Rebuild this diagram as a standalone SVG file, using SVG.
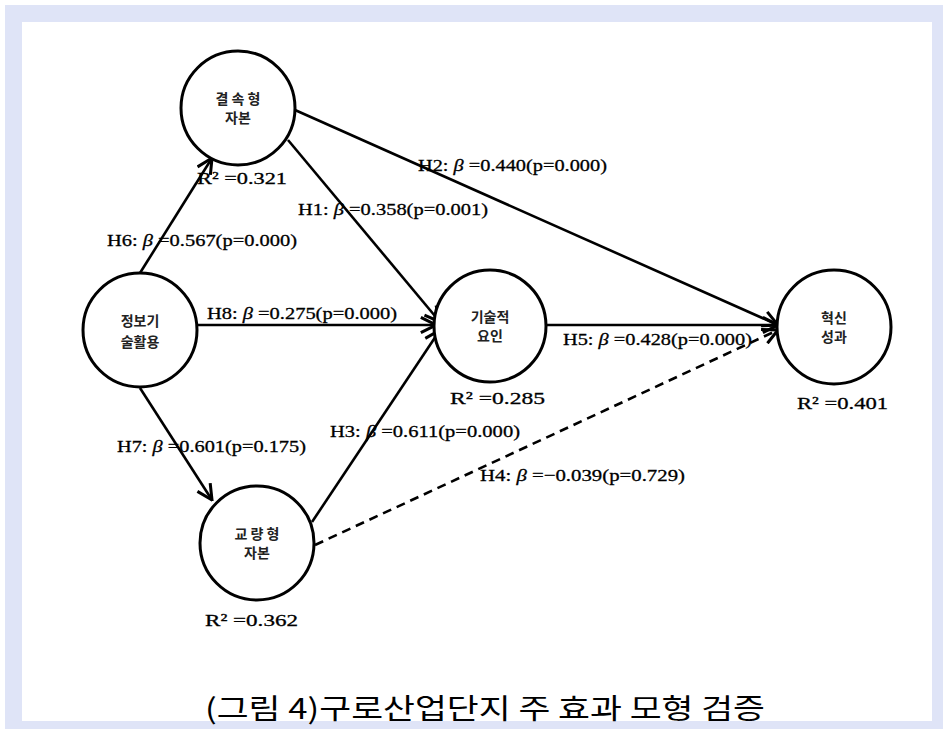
<svg xmlns="http://www.w3.org/2000/svg" width="948" height="733" viewBox="0 0 948 733">
<defs>
<style>
.node{fill:#fff;stroke:#000;stroke-width:3}
.nt{font-family:"Noto Sans CJK KR",sans-serif;font-size:14px;font-weight:bold;fill:#222;text-anchor:middle}
.lbl{font-family:"Liberation Serif",serif;font-size:17px;fill:#000;stroke:#000;stroke-width:0.3}
.b{font-style:italic}
.edge{stroke:#000;stroke-width:2.6;fill:none;marker-end:url(#arr)}
.dash{stroke-dasharray:9,6}
.cap{font-family:"Noto Sans CJK KR",sans-serif;font-size:28px;fill:#000}
</style>
<marker id="arr" viewBox="0 0 12 12" refX="11" refY="6" markerWidth="7" markerHeight="7" orient="auto" markerUnits="strokeWidth">
<path d="M1,1 L11,6 L1,11" fill="none" stroke="#000" stroke-width="2"/>
</marker>
</defs>
<rect x="0" y="0" width="948" height="733" fill="#fff"/>
<rect x="5" y="5" width="938" height="724" fill="#dfe4f7"/>
<rect x="22" y="22" width="910" height="699" fill="#fff"/>
<g id="connectors">
<line class="edge" x1="140" y1="273" x2="212" y2="158"/>
<line class="edge" x1="140" y1="388" x2="212" y2="500"/>
<line class="edge" x1="198" y1="325" x2="436" y2="325"/>
<line class="edge" x1="288" y1="140" x2="440" y2="322"/>
<line class="edge" x1="312" y1="522" x2="440" y2="330"/>
<line class="edge" x1="295" y1="110" x2="778" y2="325"/>
<line class="edge" x1="546" y1="325" x2="778" y2="325"/>
<line class="edge dash" x1="315" y1="545" x2="778" y2="330"/>
</g>
<g id="n-bonding">
<circle class="node" cx="238" cy="108" r="57"/>
<text class="nt" x="238" y="104">결 속 형</text>
<text class="nt" x="238" y="123">자본</text>
<text class="lbl" x="197" y="184" textLength="90" lengthAdjust="spacingAndGlyphs">R² =0.321</text>
</g>
<g id="n-it">
<circle class="node" cx="140" cy="330" r="57"/>
<text class="nt" x="140" y="326">정보기</text>
<text class="nt" x="140" y="347">술활용</text>
</g>
<g id="n-bridging">
<circle class="node" cx="257" cy="543" r="57"/>
<text class="nt" x="257" y="539">교 량 형</text>
<text class="nt" x="257" y="558">자본</text>
<text class="lbl" x="205" y="626" textLength="93" lengthAdjust="spacingAndGlyphs">R² =0.362</text>
</g>
<g id="n-tech">
<circle class="node" cx="490" cy="326" r="56"/>
<text class="nt" x="490" y="322">기술적</text>
<text class="nt" x="490" y="341">요인</text>
<text class="lbl" x="450" y="404" textLength="95" lengthAdjust="spacingAndGlyphs">R² =0.285</text>
</g>
<g id="n-innov">
<circle class="node" cx="834" cy="327" r="57"/>
<text class="nt" x="834" y="323">혁신</text>
<text class="nt" x="834" y="342">성과</text>
<text class="lbl" x="797" y="409" textLength="91" lengthAdjust="spacingAndGlyphs">R² =0.401</text>
</g>
<g id="labels">
<text class="lbl" x="418" y="171" textLength="189" lengthAdjust="spacingAndGlyphs">H2: <tspan class="b">β</tspan> =0.440(p=0.000)</text>
<text class="lbl" x="298" y="215" textLength="190" lengthAdjust="spacingAndGlyphs">H1: <tspan class="b">β</tspan> =0.358(p=0.001)</text>
<text class="lbl" x="107" y="246" textLength="190" lengthAdjust="spacingAndGlyphs">H6: <tspan class="b">β</tspan> =0.567(p=0.000)</text>
<text class="lbl" x="207" y="319" textLength="190" lengthAdjust="spacingAndGlyphs">H8: <tspan class="b">β</tspan> =0.275(p=0.000)</text>
<text class="lbl" x="563" y="345" textLength="189" lengthAdjust="spacingAndGlyphs">H5: <tspan class="b">β</tspan> =0.428(p=0.000)</text>
<text class="lbl" x="330" y="437" textLength="190" lengthAdjust="spacingAndGlyphs">H3: <tspan class="b">β</tspan> =0.611(p=0.000)</text>
<text class="lbl" x="117" y="452" textLength="189" lengthAdjust="spacingAndGlyphs">H7: <tspan class="b">β</tspan> =0.601(p=0.175)</text>
<text class="lbl" x="480" y="481" textLength="205" lengthAdjust="spacingAndGlyphs">H4: <tspan class="b">β</tspan> =−0.039(p=0.729)</text>
</g>
<text class="cap" x="205" y="719" textLength="560" lengthAdjust="spacingAndGlyphs">(그림 4)구로산업단지 주 효과 모형 검증</text>
</svg>
